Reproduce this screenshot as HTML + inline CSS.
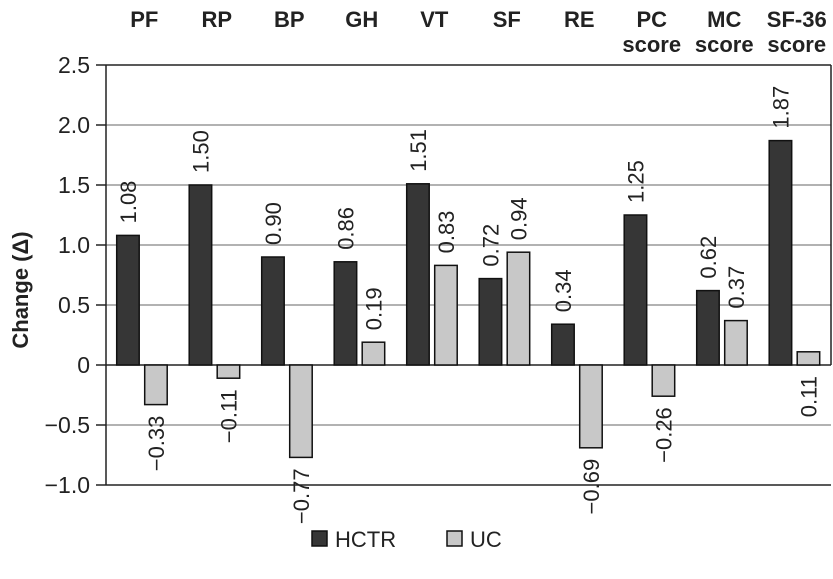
<!DOCTYPE html>
<html><head><meta charset="utf-8"><style>
body{margin:0;background:#fff;}
svg text{font-family:"Liberation Sans",sans-serif;}
</style></head><body>
<svg id="chart" width="833" height="574" xmlns="http://www.w3.org/2000/svg"></svg>
<script>
const categories=[["PF"],["RP"],["BP"],["GH"],["VT"],["SF"],["RE"],["PC","score"],["MC","score"],["SF-36","score"]];
const hctr=[1.08,1.50,0.90,0.86,1.51,0.72,0.34,1.25,0.62,1.87];
const uc=[-0.33,-0.11,-0.77,0.19,0.83,0.94,-0.69,-0.26,0.37,0.11];
const yTicks=[2.5,2.0,1.5,1.0,0.5,0,-0.5,-1.0];
const yTickLabels=["2.5","2.0","1.5","1.0","0.5","0","\u22120.5","\u22121.0"];
const NS="http://www.w3.org/2000/svg";
const svg=document.getElementById('chart');
const L=106,R=831,Y0=365,PX=120;
const catW=(R-L)/categories.length;
function y(v){return Y0-v*PX;}
function mk(t,a,txt){const e=document.createElementNS(NS,t);for(const k in a)e.setAttribute(k,a[k]);if(txt!==undefined)e.textContent=txt;svg.appendChild(e);return e;}
function fmt(v){return (v<0?"\u2212":"")+Math.abs(v).toFixed(2);}
yTicks.forEach((t,i)=>{
  const dark=(t===2.5||t===-1||t===0);
  const g=mk('line',{x1:L,x2:R,y1:y(t),y2:y(t),stroke:dark?'#222':'#999','stroke-width':1.5});
  
  const tk=mk('line',{x1:L-10,x2:L,y1:y(t),y2:y(t),stroke:'#222','stroke-width':1.5});
  
  const tl=mk('text',{x:L-16,y:y(t)+8,'text-anchor':'end','font-size':23,fill:'#222'},yTickLabels[i]);
  
});
const ax=mk('line',{x1:L,x2:L,y1:y(2.5),y2:y(-1),stroke:'#222','stroke-width':1.5});

const rb=mk('line',{x1:R,x2:R,y1:y(2.5),y2:y(0),stroke:'#222','stroke-width':1.5});

const yt=mk('text',{x:0,y:0,transform:'translate(28,290) rotate(-90)','text-anchor':'middle','font-size':22,'font-weight':'bold',fill:'#222'},'Change (\u0394)');

function bar(v,x,fill,name){
  const top=Math.min(y(v),y(0)),h=Math.abs(y(v)-y(0));
  const r=mk('rect',{x:x,y:top,width:22.5,height:h,fill:fill,stroke:'#111','stroke-width':1.5});
  
  const cx=x+11.25+8;
  let lb;
  if(v>=0.15){lb=mk('text',{x:0,y:0,transform:`translate(${cx},${y(v)-12}) rotate(-90)`,'text-anchor':'start','font-size':22,fill:'#222'},fmt(v));}
  else{lb=mk('text',{x:0,y:0,transform:`translate(${cx},${Math.max(y(v),y(0))+11}) rotate(-90)`,'text-anchor':'end','font-size':22,fill:'#222'},fmt(v));}
  
}
categories.forEach((c,i)=>{
  const x0=L+i*catW;
  bar(hctr[i],x0+10.7,'#363636','bar-hctr');
  bar(uc[i],x0+38.7,'#c8c8c8','bar-uc');
  const cx=x0+catW/2+2;
  c.forEach((ln,j)=>{
    const t=mk('text',{x:cx,y:27+j*25,'text-anchor':'middle','font-size':22,'font-weight':'bold',fill:'#222'},ln);
    
  });
});
const l1=mk('rect',{x:312,y:531,width:15,height:15,fill:'#363636',stroke:'#111','stroke-width':1.5});

const t1=mk('text',{x:335,y:547,'font-size':22,fill:'#222'},'HCTR');

const l2=mk('rect',{x:447,y:531,width:15,height:15,fill:'#c8c8c8',stroke:'#111','stroke-width':1.5});

const t2=mk('text',{x:470,y:547,'font-size':22,fill:'#222'},'UC');

</script>
</body></html>
